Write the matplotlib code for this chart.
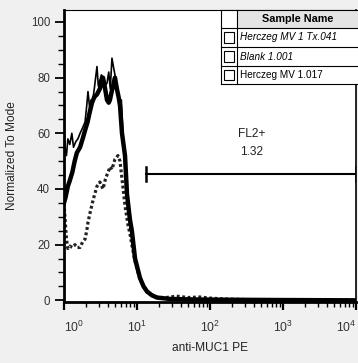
import numpy as np
import matplotlib.pyplot as plt
from matplotlib.patches import Rectangle
from matplotlib.ticker import FixedLocator, NullFormatter

plt.rcParams['font.family'] = ['Liberation Sans', 'DejaVu Sans']
plt.rcParams['mathtext.fontset'] = 'custom'
plt.rcParams['mathtext.rm'] = 'Liberation Sans'
plt.rcParams['mathtext.it'] = 'Liberation Sans:italic'

# histogram traces (x = channel value, y = % of mode)
tx_x = [1.0, 1.01, 1.03, 1.08, 1.13, 1.2, 1.28, 1.35, 1.45, 1.55, 1.66, 1.8, 1.94,
        2.05, 2.13, 2.27, 2.35, 2.42, 2.6, 2.83, 2.95, 3.1, 3.25, 3.42, 3.6, 3.88,
        4.1, 4.3, 4.54, 4.75, 4.99, 5.3, 5.6, 5.85, 6.1, 6.4, 6.85, 7.3, 8.0, 8.5,
        9.4, 11, 13.7, 18.8, 28, 60, 200, 1000, 10000]
tx_y = [100, 60, 55, 52, 58, 56, 60, 55, 57, 58, 60, 62, 64,
        70, 75, 68, 72, 70, 76, 84, 77, 79, 81, 80, 77, 78,
        82, 76, 87, 84, 81, 76, 73, 70, 72, 60, 51, 38, 27, 22,
        14, 7.5, 3, 1, 0.5, 0.3, 0.2, 0.1, 0]

mv_x = [1.0, 1.05, 1.13, 1.2, 1.3, 1.4, 1.5, 1.66, 1.8, 1.94, 2.1, 2.27, 2.42,
        2.6, 2.83, 3.1, 3.3, 3.42, 3.6, 3.88, 4.1, 4.26, 4.5, 4.69, 4.99, 5.3,
        5.6, 5.85, 6.23, 6.85, 7.3, 8.0, 8.5, 9.4, 11, 12.3, 13.7, 16, 18.8, 28,
        60, 200, 1000, 10000]
mv_y = [35, 37, 41, 43, 46, 50, 53, 55, 58, 61, 64, 68, 71,
        73, 74, 76, 79, 80, 77, 72, 71, 72, 75, 77, 80, 76,
        73, 70, 60, 52, 38, 29, 25, 15, 8, 5, 3.2, 1.8, 1, 0.5,
        0.3, 0.2, 0.1, 0]

blank_x = [1.0, 1.03, 1.08, 1.13, 1.2, 1.3, 1.415, 1.5, 1.66, 1.8, 1.94, 2.05,
           2.13, 2.3, 2.5, 2.83, 3.1, 3.42, 3.7, 4.0, 4.3, 4.54, 4.99, 5.49, 5.85,
           6.23, 6.85, 7.53, 8.0, 8.5, 9.4, 11, 13.7, 18.8, 25, 35, 50, 72, 100,
           150, 300, 1000, 10000]
blank_y = [35, 30, 22, 18.6, 19.5, 19, 20, 19, 19, 21, 22, 25,
           28, 32, 36, 41, 42.5, 40, 43.6, 46, 48, 47, 50.7, 52, 50,
           43.6, 34, 27, 24, 20, 14, 7.5, 3, 1, 1, 1.5, 1, 1.2, 0.8,
           0.5, 0.3, 0.1, 0]

samples = ['Herczeg MV 1 Tx.041', 'Blank 1.001', 'Herczeg MV 1.017']
sample_italic = [True, True, False]

gate_name = 'FL2+'
gate_value = '1.32'
gate_lo, gate_hi, gate_level = 13.3, 10000, 45.4

W, H = 358, 363
fig = plt.figure(figsize=(W / 100, H / 100), dpi=100, facecolor='#f0f0f0')
ax = fig.add_axes([64 / W, 1 - 302 / H, (356 - 64) / W, (302 - 10) / H])
ax.set_facecolor('white')

ax.plot(blank_x, blank_y, color='#222222', lw=2.3, ls=(0, (0.9, 0.8)),
        solid_capstyle='butt')
ax.plot(mv_x, mv_y, color='black', lw=3.2, solid_joinstyle='round')
ax.plot(tx_x, tx_y, color='black', lw=1.2)

ax.set_xscale('log')
ax.set_xlim(1, 1e4)
ax.set_ylim(-0.6, 104.3)

# gate
ax.plot([gate_lo, gate_hi], [gate_level, gate_level], color='black', lw=1.5)
for gx in (gate_lo, gate_hi):
    ax.plot([gx, gx], [gate_level - 2.4, gate_level + 2.4], color='black', lw=1.8)
ax.text(376, 59.6, gate_name, ha='center', va='center', fontsize=8.6, color='#222222')
ax.text(376, 53.2, gate_value, ha='center', va='center', fontsize=8.6, color='#222222')

# axes styling
for s in ('left', 'bottom'):
    ax.spines[s].set_linewidth(2.0)
ax.spines['top'].set_linewidth(0.8)
ax.spines['right'].set_linewidth(1.2)

ax.yaxis.set_major_locator(FixedLocator([0, 20, 40, 60, 80, 100]))
ax.yaxis.set_minor_locator(FixedLocator([v for v in range(0, 105, 5) if v % 20]))
ax.tick_params(axis='y', which='major', length=6.5, width=1.3, pad=3.5,
               labelsize=8.3, labelcolor='#333333', direction='out')
ax.tick_params(axis='y', which='minor', length=4.5, width=1.0, direction='out')

decades = [1, 10, 100, 1000, 10000]
ax.xaxis.set_major_locator(FixedLocator(decades))
minors = [m * d for d in decades[:-1] for m in range(2, 10)]
ax.xaxis.set_minor_locator(FixedLocator(minors))
ax.xaxis.set_minor_formatter(NullFormatter())
ax.set_xticklabels([r'$10^{%d}$' % i for i in range(5)])
ax.tick_params(axis='x', which='major', length=6, width=1.6, pad=7,
               labelsize=8.8, labelcolor='#333333', direction='out')
ax.tick_params(axis='x', which='minor', length=3.5, width=1.0, direction='out')
labels = ax.get_xticklabels()
labels[0].set_horizontalalignment('left')
labels[-1].set_horizontalalignment('right')

ax.set_xlabel('anti-MUC1 PE', fontsize=8.6, color='#222222', labelpad=5)
ax.set_ylabel('Normalized To Mode', fontsize=8.6, color='#222222', labelpad=9)

# sample legend table (figure pixel coordinates)
def fx(px):
    return px / W

def fy(py):
    return 1 - py / H

tab_l, tab_c, tab_r = 221, 237, 358
rows = [10, 28, 47, 66, 84]
fig.patches.append(Rectangle((fx(tab_l), fy(rows[-1])), fx(tab_r) - fx(tab_l),
                             fy(rows[0]) - fy(rows[-1]), transform=fig.transFigure,
                             facecolor='white', edgecolor='none', zorder=5))
fig.patches.append(Rectangle((fx(tab_c), fy(rows[1])), fx(tab_r) - fx(tab_c),
                             fy(rows[0]) - fy(rows[1]), transform=fig.transFigure,
                             facecolor='#e4e4e4', edgecolor='none', zorder=5))
for py in rows:
    fig.add_artist(plt.Line2D([fx(tab_l), fx(tab_r)], [fy(py), fy(py)],
                              color='black', lw=0.8, zorder=6))
for px in (tab_l, tab_c):
    fig.add_artist(plt.Line2D([fx(px), fx(px)], [fy(rows[0]), fy(rows[-1])],
                              color='black', lw=0.8, zorder=6))
fig.text(fx(298), fy(19), 'Sample Name', ha='center', va='center',
         fontsize=7.8, fontweight='bold', color='black', zorder=7)
for i, name in enumerate(samples):
    yc = (rows[i + 1] + rows[i + 2]) / 2
    fig.patches.append(Rectangle((fx(223.5), fy(yc + 5)), fx(10), fy(0) - fy(10),
                                 transform=fig.transFigure, facecolor='white',
                                 edgecolor='black', lw=0.8, zorder=7))
    fig.text(fx(240), fy(yc), name, ha='left', va='center', fontsize=7.2,
             style='italic' if sample_italic[i] else 'normal', color='black', zorder=7)

fig.savefig('out.png', dpi=100, facecolor=fig.get_facecolor())
